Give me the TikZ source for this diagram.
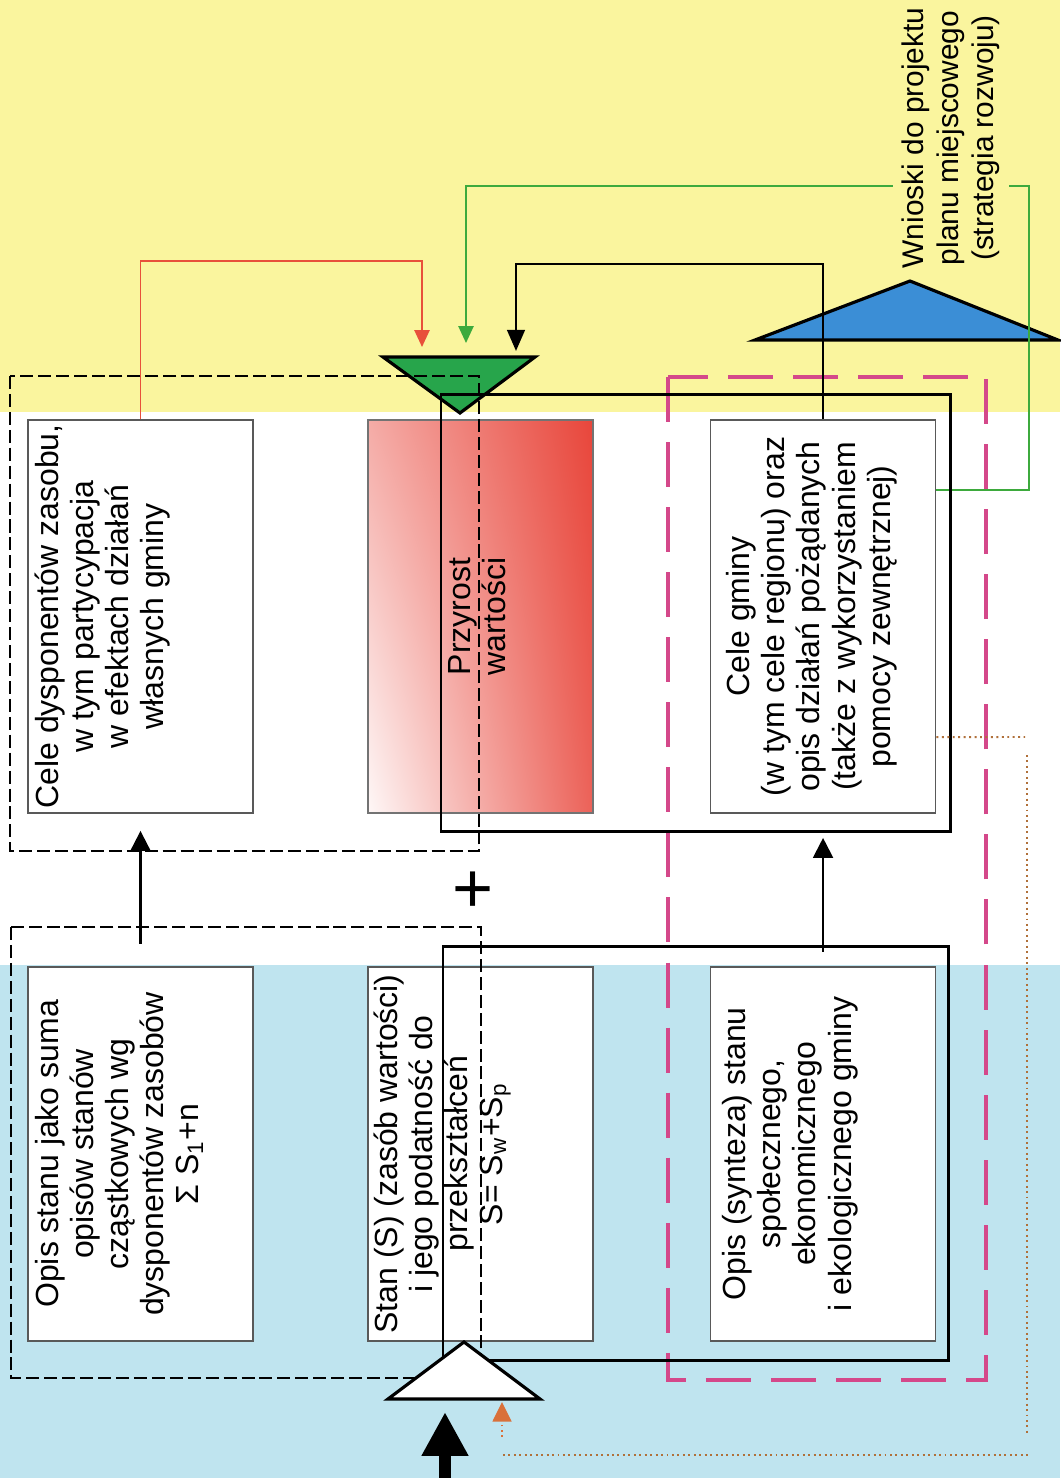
\documentclass[tikz,border=0pt]{standalone}
\usepackage{fontspec}
\setmainfont{Liberation Sans}
\usepackage{tikz}
\usetikzlibrary{arrows.meta, positioning, shadings}
\definecolor{PaleYellow}{HTML}{FAF59E}
\definecolor{PaleBlue}{HTML}{BFE4EF}
\definecolor{FrameMagenta}{HTML}{D4488A}
\definecolor{GateGreen}{HTML}{27A54B}
\definecolor{GateBlue}{HTML}{3B8ED6}
\definecolor{ArrowRed}{HTML}{E8503A}
\definecolor{LineGreen}{HTML}{3DAA3D}
\definecolor{DotBrown}{HTML}{B0703A}
\definecolor{TipOrange}{HTML}{D9703A}
\definecolor{GainRed}{HTML}{E8463B}

\begin{document}
\begin{tikzpicture}[x=0.01cm, y=-0.01cm,
  box/.style={draw=black!65, line width=0.45pt, fill=white, inner sep=0pt,
              minimum width=2.25cm, minimum height=3.93cm},
  lowbox/.style={box, minimum height=3.74cm},
  boxtext/.style={rotate=90, anchor=north, inner sep=0pt, align=center,
              font=\fontsize{9.1}{10}\selectfont},
  dashframe/.style={line width=0.6pt, dash pattern=on 3.7pt off 1.4pt},
  loopframe/.style={line width=0.85pt},
  gate/.style={draw=black, line width=0.9pt, line join=miter},
  feed/.style={line width=0.55pt, -{Triangle[length=4.8pt, width=4.3pt]}},
  rowarrow/.style={line width=0.6pt, -{Triangle[length=5.7pt, width=5.7pt]}},
  dotline/.style={DotBrown, line width=0.55pt, densely dotted}
]
  \useasboundingbox (0,0) rectangle (1060,1478);
  \fill[white] (0,0) rectangle (1060,1478);
  \fill[PaleYellow] (0,0) rectangle (1060,412);
  \fill[PaleBlue] (0,965) rectangle (1060,1478);

  % goals row and state row
  \node[box] (celeDysp) at (140.5,616.5) {};
  \node[box, right=1.13cm of celeDysp, draw=black!55, shade,
        upper left=GainRed!45!white, upper right=GainRed,
        lower left=GainRed!4!white, lower right=GainRed!85!white] (przyrost) {};
  \node[box, right=1.16cm of przyrost] (celeGm) {};
  \node[lowbox, below=1.52cm of celeDysp] (opisStan) {};
  \node[lowbox, below=1.52cm of przyrost] (stanS) {};
  \node[lowbox, below=1.52cm of celeGm] (opisSynt) {};

  \node[boxtext] (celeDyspTxt) at ([xshift=0.07cm]celeDysp.west)
    {Cele dysponentów zasobu,\\w tym partycypacja\\w efektach działań\\własnych gminy};
  \node[boxtext, anchor=center] (przyrostTxt) at ([xshift=-0.03cm]przyrost) {Przyrost\\wartości};
  \node[boxtext] (celeGmTxt) at ([xshift=0.16cm]celeGm.west)
    {Cele gminy\\(w tym cele regionu) oraz\\opis działań pożądanych\\(także z wykorzystaniem\\pomocy zewnętrznej)};
  \node[boxtext] (opisStanTxt) at ([xshift=0.07cm]opisStan.west)
    {Opis stanu jako suma\\opisów stanów\\cząstkowych wg\\dysponentów zasobów\\Σ S\textsubscript{1}+n};
  \node[boxtext] (stanSTxt) at ([xshift=0.06cm]stanS.west)
    {Stan (S) (zasób wartości)\\i jego podatność do\\przekształceń\\S= S\textsubscript{w}+S\textsubscript{p}};
  \node[boxtext] (opisSyntTxt) at ([xshift=0.12cm]opisSynt.west)
    {Opis (synteza) stanu\\społecznego,\\ekonomicznego\\i ekologicznego gminy};

  % magenta frame round the commune column
  \draw[FrameMagenta, line width=1.4pt, dash pattern=on 12.8pt off 5.7pt]
    (668,377) rectangle (986,1380);

  % gates
  \filldraw[gate, fill=GateBlue] (755,340) -- (910,281) -- (1058,340) -- cycle;
  \filldraw[gate, fill=GateGreen] (383,357) -- (535,357) -- (460,413) -- cycle;
  \coordinate (inRed) at (422,347);
  \coordinate (inGreen) at (466,343);
  \coordinate (inBlack) at (516,351);

  % feedback into the upper gate
  \draw[feed, ArrowRed] (celeDysp.north) -- ++(0,-158) -| (inRed);
  \draw[feed, LineGreen] ([yshift=1.265cm]celeGm.east) -- ++(93,0) -- ++(0,-304) -| (inGreen);
  \draw[line width=0.75pt, -{Triangle[length=6pt, width=5pt]}]
    (celeGm.north) -- ++(0,-155) -| (inBlack);
  \node[boxtext, anchor=center, fill=PaleYellow, inner xsep=2pt, inner ysep=2.4pt,
        font=\fontsize{8.5}{10}\selectfont]
    (wnioski) at (951,138) {Wnioski do projektu\\planu miejscowego\\(strategia rozwoju)};

  \draw[rowarrow, shorten <=0.22cm, shorten >=0.17cm] (opisStan.north) -- (celeDysp.south);
  \draw[rowarrow, shorten <=0.14cm, shorten >=0.24cm] (opisSynt.north) -- (celeGm.south);

  % loops
  \draw[loopframe] (441,394) rectangle (950,831);
  \draw[dashframe] (10,376) rectangle (479,851);
  \draw[loopframe] (443,946) rectangle (948,1360);
  \draw[dashframe] (11,927) rectangle (481,1378);
  \filldraw[gate, fill=white] (388,1399) -- (464,1342) -- (540,1399) -- cycle;

  \node[font=\fontsize{20}{20}\selectfont, inner sep=0pt] (plus) at (473,892) {+};

  % inputs into the lower gate
  \coordinate (bigIn) at (445,1478);
  \coordinate (bigTip) at (445,1412);
  \draw[line width=3.5pt, -{Triangle[length=12.5pt, width=12.5pt]}] (bigIn) -- (bigTip);
  \coordinate (feedIn) at (502,1437);
  \coordinate (feedTip) at (502,1402);
  \draw[TipOrange, line width=0.5pt, densely dotted, -{Triangle[length=5.6pt, width=5.4pt]}]
    (feedIn) -- (feedTip);

  % dotted return path
  \coordinate (dotA) at (1025,737);
  \coordinate (dotB) at (1027,755);
  \coordinate (dotC) at (1027,1435);
  \coordinate (dotD) at (503,1455);
  \coordinate (dotE) at (1030,1455);
  \draw[dotline] ([yshift=-1.205cm]celeGm.east) -- (dotA);
  \draw[dotline] (dotB) -- (dotC);
  \draw[dotline] (dotD) -- (dotE);
\end{tikzpicture}
\end{document}
